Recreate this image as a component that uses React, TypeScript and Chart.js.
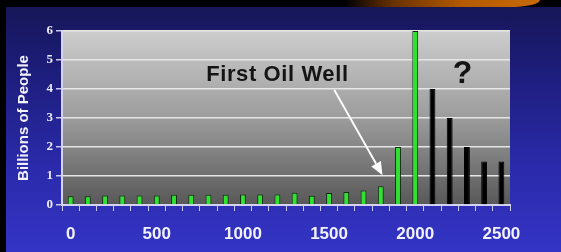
import React, { useEffect, useRef } from 'react';
import { Chart, registerables } from 'chart.js';

Chart.register(...registerables);

// ---- data ----
const years: string[] = [
  '0', '100', '200', '300', '400', '500', '600', '700', '800', '900',
  '1000', '1100', '1200', '1300', '1400', '1500', '1600', '1700', '1800', '1900',
  '2000', '2100', '2200', '2300', '2400', '2500',
];
const population: number[] = [
  0.3, 0.3, 0.33, 0.33, 0.33, 0.33, 0.35, 0.35, 0.35, 0.35,
  0.36, 0.36, 0.36, 0.42, 0.32, 0.41, 0.45, 0.5, 0.65, 2.0,
  6.0, 4.0, 3.0, 2.0, 1.5, 1.5,
];
const lastKnownYear = '2000';
const yMin = 0;
const yMax = 6;
const yStep = 1;
const xLabelEvery = 5;
const yTitle = 'Billions of People';
const annotationText = 'First Oil Well';
const questionText = '?';
// annotation anchors in data terms: [category index, value]
const textAnchor: [number, number] = [12.0, 4.5];
const arrowFrom: [number, number] = [15.3, 3.97];
const arrowTo: [number, number] = [18.1, 1.03];
const questionAnchor: [number, number] = [22.75, 4.5];

const lastKnownIndex = years.indexOf(lastKnownYear);
const barColors = years.map((_, i) => (i <= lastKnownIndex ? '#30e230' : '#000000'));
const borderColors = years.map((_, i) => (i <= lastKnownIndex ? '#0c2a0c' : '#000000'));

const decorPlugin = {
  id: 'decor',
  beforeDraw(chart: any) {
    const { ctx, chartArea: a } = chart;
    ctx.save();
    const g = ctx.createLinearGradient(0, a.top, 0, a.bottom);
    g.addColorStop(0, '#cdcdcd');
    g.addColorStop(0.5, '#9c9c9c');
    g.addColorStop(1, '#585858');
    ctx.fillStyle = g;
    ctx.fillRect(a.left, a.top, a.right - a.left, a.bottom - a.top);
    ctx.restore();
  },
  afterDatasetsDraw(chart: any) {
    const { ctx } = chart;
    const xs = chart.scales.x;
    const ys = chart.scales.y;
    const px = (p: [number, number]) => [xs.getPixelForValue(p[0]), ys.getPixelForValue(p[1])];
    ctx.save();
    // label
    const [tx, ty] = px(textAnchor);
    ctx.fillStyle = '#141414';
    ctx.font = 'bold 22px "Liberation Sans", Arial, sans-serif';
    (ctx as any).letterSpacing = '0.6px';
    ctx.textAlign = 'center';
    ctx.textBaseline = 'middle';
    ctx.fillText(annotationText, tx, ty);
    (ctx as any).letterSpacing = '0px';
    // question mark
    const [qx, qy] = px(questionAnchor);
    ctx.font = 'bold 32px "Liberation Sans", Arial, sans-serif';
    ctx.fillText(questionText, qx, qy);
    // arrow
    const [x1, y1] = px(arrowFrom);
    const [x2, y2] = px(arrowTo);
    const ang = Math.atan2(y2 - y1, x2 - x1);
    const headLen = 13;
    const headHalf = 5.5;
    const bx = x2 - headLen * Math.cos(ang);
    const by = y2 - headLen * Math.sin(ang);
    ctx.strokeStyle = '#ffffff';
    ctx.lineWidth = 2;
    ctx.beginPath();
    ctx.moveTo(x1, y1);
    ctx.lineTo(bx, by);
    ctx.stroke();
    ctx.fillStyle = '#ffffff';
    ctx.beginPath();
    ctx.moveTo(x2, y2);
    ctx.lineTo(bx + headHalf * Math.sin(ang), by - headHalf * Math.cos(ang));
    ctx.lineTo(bx - headHalf * Math.sin(ang), by + headHalf * Math.cos(ang));
    ctx.closePath();
    ctx.fill();
    ctx.restore();
  },
};

export default function App() {
  const ref = useRef<HTMLCanvasElement | null>(null);

  useEffect(() => {
    document.body.style.margin = '0';
    const canvas = ref.current;
    if (!canvas) return;
    const chart = new Chart(canvas, {
      type: 'bar',
      data: {
        labels: years,
        datasets: [
          {
            data: population,
            backgroundColor: barColors,
            borderColor: borderColors,
            borderWidth: 1,
            borderSkipped: 'bottom',
            barPercentage: 0.34,
            categoryPercentage: 1,
          },
        ],
      },
      options: {
        responsive: false,
        animation: false,
        devicePixelRatio: 1,
        layout: { padding: { left: 0, right: 51, top: 31, bottom: 0 } },
        plugins: { legend: { display: false }, tooltip: { enabled: false } },
        scales: {
          x: {
            type: 'category',
            afterFit: (s: any) => { s.height = 47; },
            grid: {
              offset: true,
              drawOnChartArea: false,
              drawTicks: true,
              tickLength: 6,
              tickColor: '#c9c9ee',
              lineWidth: 1,
            },
            border: { display: true, color: '#d4d4f2', width: 2 },
            ticks: {
              autoSkip: false,
              maxRotation: 0,
              minRotation: 0,
              padding: 13,
              color: '#f2f2ff',
              font: { family: '"Liberation Sans", Arial, sans-serif', weight: 'bold', size: 17 },
              callback: (_v: any, i: number) => (i % xLabelEvery === 0 ? years[i] : ''),
            },
          },
          y: {
            min: yMin,
            max: yMax,
            afterFit: (s: any) => { s.width = 62; },
            grid: {
              color: '#e6e6e6',
              lineWidth: 1.5,
              drawTicks: true,
              tickLength: 6,
              tickColor: '#c9c9ee',
            },
            border: { display: true, color: '#d4d4f2', width: 2 },
            ticks: {
              stepSize: yStep,
              padding: 3,
              color: '#ececff',
              font: { family: '"Liberation Serif", "Times New Roman", serif', weight: 'bold', size: 13 },
            },
            title: {
              display: true,
              text: yTitle,
              color: '#f2f2ff',
              padding: { top: 15, bottom: 0 },
              font: { family: '"Liberation Sans", Arial, sans-serif', weight: 'bold', size: 15 },
            },
          },
        },
      },
      plugins: [decorPlugin],
    } as any);
    return () => chart.destroy();
  }, []);

  return (
    <div style={{ position: 'fixed', left: 0, top: 0, width: 561, height: 252, background: '#000', overflow: 'hidden' }}>
      <div
        style={{
          position: 'absolute',
          left: 6,
          top: 7,
          right: 0,
          bottom: 0,
          background: 'linear-gradient(to bottom, #161658 0%, #1e1e80 30%, #2a2aaa 65%, #3434c6 100%)',
        }}
      />
      <div
        style={{
          position: 'absolute',
          left: 345,
          top: 0,
          width: 195,
          height: 7,
          background: 'linear-gradient(to right, #000000 0%, #6a3200 25%, #b45a00 60%, #c86a08 100%)',
          borderBottomRightRadius: '30px 7px',
        }}
      />
      <canvas ref={ref} width={561} height={252} style={{ position: 'absolute', left: 0, top: 0, width: 561, height: 252 }} />
    </div>
  );
}
